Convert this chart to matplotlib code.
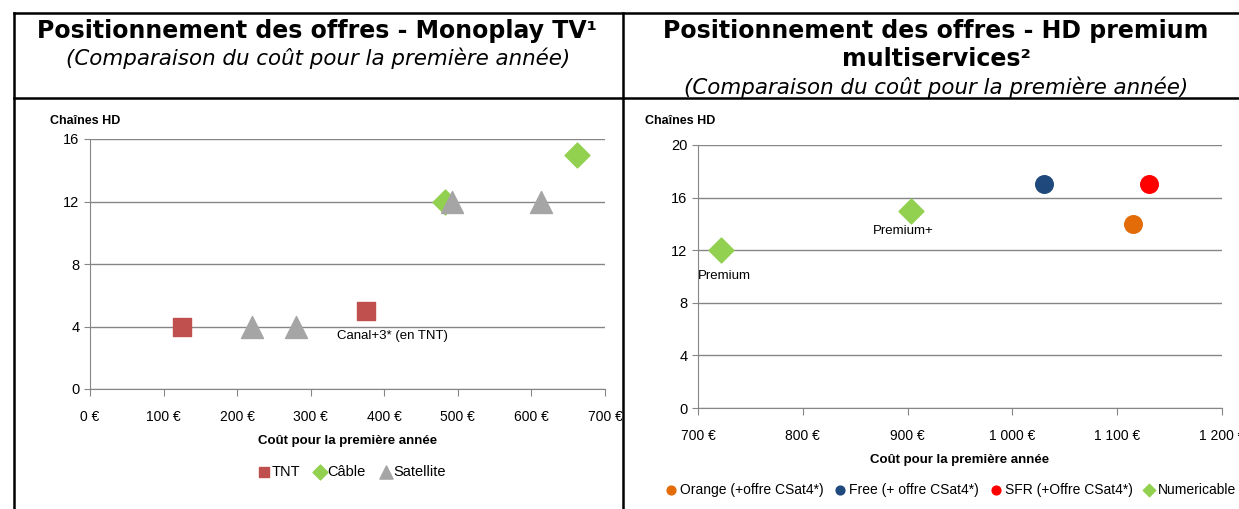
import matplotlib
matplotlib.use("Agg")
import matplotlib.pyplot as plt
from matplotlib.lines import Line2D

plt.rcParams['font.family'] = ['Liberation Sans', 'DejaVu Sans']

# left chart : monoplay TV
tnt_x = [125, 375]
tnt_y = [4, 5]
cable_x = [483, 662]
cable_y = [12, 15]
sat_x = [220, 280, 492, 613]
sat_y = [4, 4, 12, 12]
left_xticks = [0, 100, 200, 300, 400, 500, 600, 700]
left_yticks = [0, 4, 8, 12, 16]

# right chart : HD premium multiservices
orange_x = [1115]
orange_y = [14]
free_x = [1030]
free_y = [17]
sfr_x = [1130]
sfr_y = [17]
numeri_x = [722, 903]
numeri_y = [12, 15]
numeri_labels = ['Premium', 'Premium+']
right_xticks = [700, 800, 900, 1000, 1100, 1200]
right_yticks = [0, 4, 8, 12, 16, 20]

W, H = 1239, 509
fig = plt.figure(figsize=(W / 100, H / 100), dpi=100)


def fx(px):
    return px / W


def fy(py):
    return 1 - py / H


def euro(v):
    s = f"{v:,}".replace(",", " ")
    return s + " €"


def style_axes(ax, xticks, yticks):
    ax.set_xticks(xticks)
    ax.set_xticklabels([euro(v) for v in xticks], fontsize=10)
    ax.set_yticks(yticks)
    ax.tick_params(axis='y', labelsize=10.5, length=4, color='#868686')
    ax.tick_params(axis='x', length=5, color='#868686', pad=10)
    ax.grid(axis='y', color='#868686', linewidth=1)
    ax.set_axisbelow(True)
    for s in ['top', 'right']:
        ax.spines[s].set_visible(False)
    for s in ['left', 'bottom']:
        ax.spines[s].set_color('#868686')
    ax.set_xlabel('Coût pour la première année', fontsize=9.5, fontweight='bold', labelpad=8)


# table lines
lw = 1.8
fig.add_artist(Line2D([fx(14), fx(14)], [fy(13), 0], color='black', lw=lw))
fig.add_artist(Line2D([fx(14), 1], [fy(13), fy(13)], color='black', lw=lw))
fig.add_artist(Line2D([fx(623), fx(623)], [fy(13), 0], color='black', lw=lw))
fig.add_artist(Line2D([fx(14), 1], [fy(98), fy(98)], color='black', lw=lw))

# titles (verdana-like look)
tfont = 'DejaVu Sans'
fig.text(fx(317), fy(31), 'Positionnement des offres - Monoplay TV¹', fontsize=17,
         fontweight='bold', ha='center', va='center', family=tfont)
fig.text(fx(318), fy(58), '(Comparaison du coût pour la première année)', fontsize=15.4,
         style='italic', ha='center', va='center', family=tfont)
fig.text(fx(936), fy(31), 'Positionnement des offres - HD premium', fontsize=17,
         fontweight='bold', ha='center', va='center', family=tfont)
fig.text(fx(936), fy(59), 'multiservices²', fontsize=17,
         fontweight='bold', ha='center', va='center', family=tfont)
fig.text(fx(936), fy(87), '(Comparaison du coût pour la première année)', fontsize=15.4,
         style='italic', ha='center', va='center', family=tfont)

# left chart
ax1 = fig.add_axes([fx(90), fy(389), fx(605) - fx(90), fy(139) - fy(389)])
ax1.scatter(tnt_x, tnt_y, marker='s', s=150, color='#C0504D', label='TNT', zorder=3)
ax1.scatter(cable_x, cable_y, marker='D', s=160, color='#92D050', label='Câble', zorder=3)
ax1.scatter(sat_x, sat_y, marker='^', s=250, color='#A5A5A5', label='Satellite', zorder=3)
ax1.set_xlim(0, 700)
ax1.set_ylim(0, 16)
style_axes(ax1, left_xticks, left_yticks)
ax1.annotate('Canal+3* (en TNT)', (tnt_x[1], tnt_y[1]), xytext=(-21, -20),
             textcoords='offset points', fontsize=9.5)
fig.text(fx(50), fy(121), 'Chaînes HD', fontsize=9, fontweight='bold', va='center')
fig.legend(handles=ax1.collections, labels=['TNT', 'Câble', 'Satellite'],
           loc='center', bbox_to_anchor=(fx(352), fy(472)), ncol=3, frameon=False,
           fontsize=10.5, handletextpad=0.1, columnspacing=1.0, handlelength=0.8,
           markerscale=0.6)

# right chart
ax2 = fig.add_axes([fx(698), fy(408), fx(1222) - fx(698), fy(145) - fy(408)])
ax2.scatter(orange_x, orange_y, marker='o', s=160, color='#E36C09',
            label='Orange (+offre CSat4*)', zorder=3)
ax2.scatter(free_x, free_y, marker='o', s=160, color='#1F497D',
            label='Free (+ offre CSat4*)', zorder=3)
ax2.scatter(sfr_x, sfr_y, marker='o', s=160, color='#FF0000',
            label='SFR (+Offre CSat4*)', zorder=3)
ax2.scatter(numeri_x, numeri_y, marker='D', s=160, color='#92D050',
            label='Numericable', zorder=3)
ax2.set_xlim(700, 1200)
ax2.set_ylim(0, 20)
style_axes(ax2, right_xticks, right_yticks)
ax2.annotate(numeri_labels[0], (numeri_x[0], numeri_y[0]), xytext=(-17, -21),
             textcoords='offset points', fontsize=9.5)
ax2.annotate(numeri_labels[1], (numeri_x[1], numeri_y[1]), xytext=(-27, -17),
             textcoords='offset points', fontsize=9.5)
fig.text(fx(645), fy(121), 'Chaînes HD', fontsize=9, fontweight='bold', va='center')
ax2.legend(loc='center', bbox_to_anchor=(fx(951), fy(490)), bbox_transform=fig.transFigure,
           ncol=4, frameon=False, fontsize=10, handletextpad=0.25, columnspacing=0.8,
           handlelength=0.8, markerscale=0.5, borderpad=0)

fig.savefig('out.png', dpi=100)
